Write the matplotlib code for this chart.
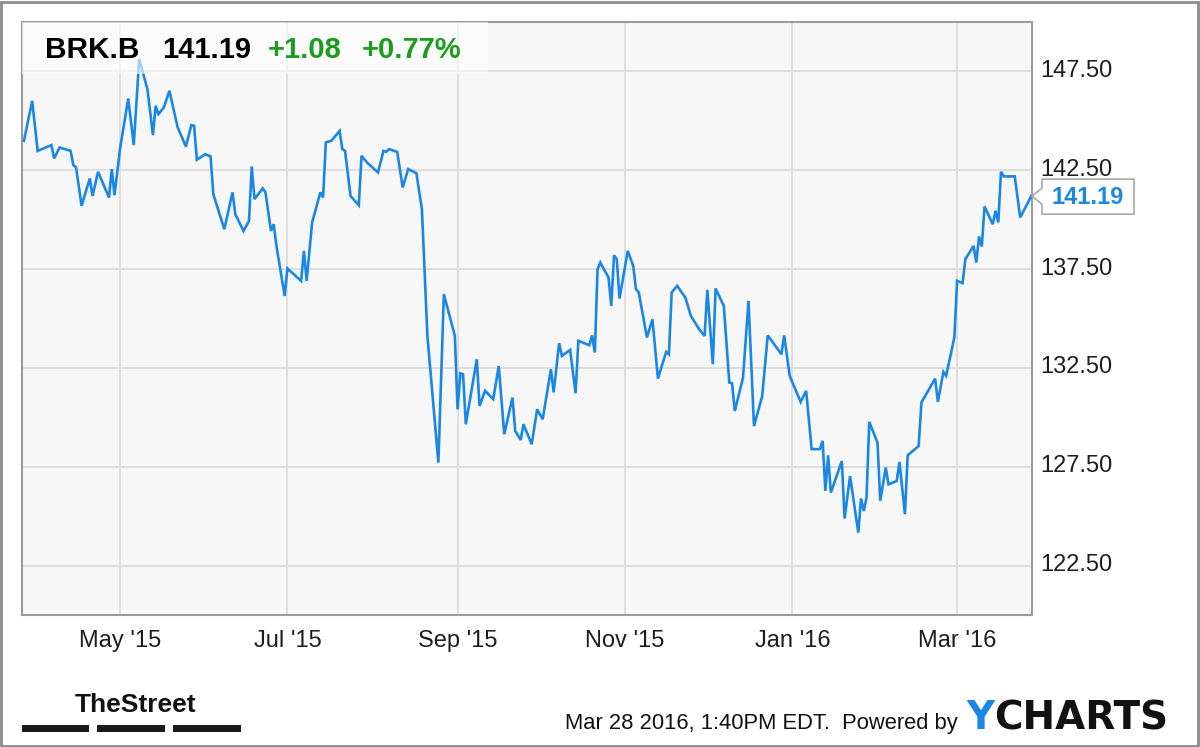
import matplotlib
matplotlib.use("Agg")
import matplotlib.pyplot as plt
import matplotlib.dates as mdates
import matplotlib.transforms as mtransforms
from matplotlib.patches import Rectangle, Polygon
import pandas as pd

plt.rcParams["font.family"] = ["Liberation Sans", "DejaVu Sans"]

# ---- data (BRK.B, 1 year) ----
TICKER = "BRK.B"
LAST_PRICE = 141.19
CHANGE = 1.08
CHANGE_PCT = 0.77
TIMESTAMP = "Mar 28 2016, 1:40PM EDT."

DATES = [
    "2015-03-27", "2015-03-30", "2015-04-01", "2015-04-06", "2015-04-07", "2015-04-09",
    "2015-04-13", "2015-04-14", "2015-04-15", "2015-04-17", "2015-04-20", "2015-04-21",
    "2015-04-23", "2015-04-27", "2015-04-28", "2015-04-29", "2015-05-01", "2015-05-04",
    "2015-05-06", "2015-05-08", "2015-05-11", "2015-05-13", "2015-05-14", "2015-05-15",
    "2015-05-17", "2015-05-19", "2015-05-22", "2015-05-25", "2015-05-27", "2015-05-28",
    "2015-05-29", "2015-06-01", "2015-06-03", "2015-06-04", "2015-06-08", "2015-06-11",
    "2015-06-12", "2015-06-15", "2015-06-17", "2015-06-18", "2015-06-19", "2015-06-22",
    "2015-06-23", "2015-06-25", "2015-06-26", "2015-06-27", "2015-06-30", "2015-07-01",
    "2015-07-06", "2015-07-07", "2015-07-08", "2015-07-10", "2015-07-13", "2015-07-14",
    "2015-07-15", "2015-07-17", "2015-07-20", "2015-07-21", "2015-07-22", "2015-07-24",
    "2015-07-27", "2015-07-28", "2015-07-30", "2015-08-03", "2015-08-05", "2015-08-06",
    "2015-08-07", "2015-08-10", "2015-08-12", "2015-08-14", "2015-08-17", "2015-08-19",
    "2015-08-21", "2015-08-25", "2015-08-27", "2015-08-31", "2015-09-01", "2015-09-02",
    "2015-09-03", "2015-09-04", "2015-09-08", "2015-09-09", "2015-09-11", "2015-09-14",
    "2015-09-16", "2015-09-18", "2015-09-21", "2015-09-22", "2015-09-24", "2015-09-25",
    "2015-09-28", "2015-09-30", "2015-10-02", "2015-10-05", "2015-10-06", "2015-10-08",
    "2015-10-09", "2015-10-12", "2015-10-14", "2015-10-15", "2015-10-19", "2015-10-20",
    "2015-10-21", "2015-10-22", "2015-10-23", "2015-10-26", "2015-10-27", "2015-10-28",
    "2015-10-29", "2015-10-30", "2015-11-02", "2015-11-04", "2015-11-05", "2015-11-06",
    "2015-11-09", "2015-11-11", "2015-11-13", "2015-11-16", "2015-11-17", "2015-11-18",
    "2015-11-20", "2015-11-23", "2015-11-25", "2015-11-28", "2015-11-30", "2015-12-01",
    "2015-12-03", "2015-12-04", "2015-12-07", "2015-12-09", "2015-12-10", "2015-12-11",
    "2015-12-14", "2015-12-16", "2015-12-18", "2015-12-21", "2015-12-23", "2015-12-28",
    "2015-12-29", "2015-12-31", "2016-01-04", "2016-01-06", "2016-01-08", "2016-01-11",
    "2016-01-12", "2016-01-13", "2016-01-14", "2016-01-15", "2016-01-19", "2016-01-20",
    "2016-01-22", "2016-01-25", "2016-01-26", "2016-01-27", "2016-01-28", "2016-01-29",
    "2016-02-01", "2016-02-02", "2016-02-04", "2016-02-05", "2016-02-08", "2016-02-09",
    "2016-02-11", "2016-02-12", "2016-02-16", "2016-02-17", "2016-02-18", "2016-02-22",
    "2016-02-23", "2016-02-25", "2016-02-26", "2016-02-29", "2016-03-01", "2016-03-03",
    "2016-03-04", "2016-03-07", "2016-03-08", "2016-03-09", "2016-03-10", "2016-03-11",
    "2016-03-14", "2016-03-15", "2016-03-16", "2016-03-17", "2016-03-18", "2016-03-22",
    "2016-03-24", "2016-03-28",
]
CLOSE = [
    143.99, 146.01, 143.48, 143.77, 143.10, 143.65,
    143.48, 142.76, 142.64, 140.70, 142.09, 141.20,
    142.42, 141.12, 142.56, 141.24, 143.57, 146.13,
    143.77, 148.12, 146.60, 144.28, 145.76, 145.34,
    145.68, 146.52, 144.67, 143.70, 144.78, 144.75,
    143.03, 143.31, 143.20, 141.29, 139.52, 141.38,
    140.28, 139.43, 139.94, 142.69, 141.04, 141.58,
    141.38, 139.43, 139.77, 138.67, 136.14, 137.53,
    136.90, 138.42, 136.90, 139.86, 141.38, 141.12,
    143.91, 143.99, 144.49, 143.57, 143.48, 141.20,
    140.73, 143.23, 142.89, 142.39, 143.48, 143.43,
    143.57, 143.43, 141.63, 142.56, 142.35, 140.53,
    134.12, 127.71, 136.23, 134.12, 130.41, 132.23,
    132.18, 129.65, 132.94, 130.58, 131.34, 130.92,
    132.60, 129.14, 131.00, 129.31, 128.86, 129.65,
    128.64, 130.41, 129.90, 132.43, 131.26, 133.75,
    133.11, 133.41, 131.22, 133.87, 133.65, 134.15,
    133.28, 137.50, 137.83, 137.07, 135.64, 138.20,
    138.00, 136.01, 138.42, 137.66, 136.48, 136.32,
    134.04, 134.96, 131.96, 133.31, 133.19, 136.32,
    136.65, 136.06, 135.13, 134.46, 134.12, 136.45,
    132.69, 136.52, 135.64, 131.76, 131.72, 130.32,
    132.01, 135.89, 129.56, 131.08, 134.15, 133.19,
    134.15, 132.10, 130.78, 131.34, 128.39, 128.39,
    128.81, 126.28, 128.08, 126.19, 127.79, 124.88,
    127.03, 124.17, 125.89, 125.26, 125.94, 129.77,
    128.72, 125.77, 127.46, 126.61, 126.78, 127.74,
    125.10, 128.08, 128.55, 130.75, 130.99, 131.96,
    130.78, 132.30, 132.10, 134.04, 136.90, 136.79,
    138.00, 138.67, 137.83, 139.15, 138.64, 140.67,
    139.77, 140.45, 139.86, 142.42, 142.19, 142.19,
    140.11, 141.19,
]

Y_TICKS = [122.5, 127.5, 132.5, 137.5, 142.5, 147.5]
Y_RANGE = (120.0, 150.0)
X_RANGE = ("2015-03-26 07:00", "2016-03-28 07:00")

LINE_BLUE = "#1a87e6"
GREEN = "#1c9c1c"
GRID = "#dcdcdc"
SPINE = "#9c9c9c"
TEXT = "#1e1e1e"

W, H = 1200, 747
fig = plt.figure(figsize=(W / 100, H / 100), dpi=100)
fig.patch.set_facecolor("white")
ax = fig.add_axes([22 / W, 1 - 615 / H, (1032 - 22) / W, (615 - 22) / H])
ax.set_facecolor("#f7f7f7")

dates = pd.to_datetime(DATES)
ax.plot(dates, CLOSE, color=LINE_BLUE, lw=1.9, solid_joinstyle="miter", zorder=3)

ax.set_ylim(*Y_RANGE)
ax.set_xlim(pd.Timestamp(X_RANGE[0]), pd.Timestamp(X_RANGE[1]))
ax.set_yticks(Y_TICKS)
ax.yaxis.set_major_formatter(plt.FuncFormatter(lambda v, _: f"{v:.2f}"))
ax.yaxis.tick_right()
ax.xaxis.set_major_locator(mdates.MonthLocator(bymonth=[1, 3, 5, 7, 9, 11]))
ax.xaxis.set_major_formatter(mdates.DateFormatter("%b '%y"))
ax.tick_params(axis="y", length=0, pad=6, labelsize=17, labelcolor=TEXT)
ax.tick_params(axis="x", length=0, pad=11, labelsize=17, labelcolor=TEXT)
ax.grid(True, color=GRID, lw=1.3, zorder=0)
ax.set_axisbelow(True)
for sp in ax.spines.values():
    sp.set_color(SPINE)
    sp.set_linewidth(1.5)

# price labels sit a little above their gridlines
lift = mtransforms.ScaledTranslation(0, 3 / 100, fig.dpi_scale_trans)
for lab in ax.get_yticklabels():
    lab.set_transform(lab.get_transform() + lift)

# header box (semi transparent, the line shows faintly behind it)
ax.add_patch(Rectangle((0, 1 - 52 / 593), (488 - 22) / 1010, 52 / 593, transform=ax.transAxes,
                       facecolor="white", alpha=0.6, edgecolor="none", zorder=4))
fig.text(45 / W, 1 - 58 / H, TICKER, fontsize=21.5, fontweight="bold", color="black", va="baseline")
fig.text(162 / W, 1 - 58 / H, f"{LAST_PRICE:.2f}", fontsize=21, fontweight="bold", color="black", va="baseline")
fig.text(268 / W, 1 - 58 / H, f"+{CHANGE:.2f}", fontsize=21, fontweight="bold", color=GREEN, va="baseline")
fig.text(362 / W, 1 - 58 / H, f"+{CHANGE_PCT:.2f}%", fontsize=21, fontweight="bold", color=GREEN, va="baseline")

# last price callout at the right edge
tip = mtransforms.blended_transform_factory(ax.transAxes, ax.transData)
shape_tr = fig.dpi_scale_trans + mtransforms.ScaledTranslation(1, CLOSE[-1], tip)
pts = [(0, 0), (10, 8), (10, 17), (102, 17), (102, -18), (10, -18), (10, -8)]
ax.add_patch(Polygon([(x / 100, y / 100) for x, y in pts], closed=True, transform=shape_tr,
                     facecolor="white", edgecolor="#a8a8a8", lw=1.2, zorder=5, clip_on=False))
ax.annotate(f"{CLOSE[-1]:.2f}", xy=(1, CLOSE[-1]), xycoords=tip, xytext=(56, -1),
            textcoords="offset pixels", ha="center", va="center", fontsize=17,
            fontweight="bold", color=LINE_BLUE, annotation_clip=False, zorder=6)

# footer
fig.text(75 / W, 1 - 712 / H, "TheStreet", fontsize=19, fontweight="bold",
         color="#111111", va="baseline")
for x0, x1 in [(22, 89), (97, 165), (173, 241)]:
    fig.add_artist(Rectangle((x0 / W, 1 - 732 / H), (x1 - x0) / W, 7 / H, transform=fig.transFigure,
                             facecolor="#1a1a1a", edgecolor="none"))
fig.text(565 / W, 1 - 729 / H, TIMESTAMP + "  Powered by", fontsize=15.8, color="#111111", va="baseline")
y_txt = fig.text(966 / W, 1 - 729 / H, "Y", fontsize=28, fontweight="bold", family="DejaVu Sans",
                 color=LINE_BLUE, va="baseline")
ax.annotate("CHARTS", xy=(1, 0), xycoords=y_txt, ha="left", va="bottom", fontsize=28,
            fontweight="bold", family="DejaVu Sans", color="#111111", annotation_clip=False)

# outer frame
fig.add_artist(Rectangle((1 / W, 1 / H), (W - 3) / W, (H - 3) / H, transform=fig.transFigure,
                         fill=False, edgecolor="#8c8c8c", lw=2))

fig.savefig("out.png", dpi=100)
